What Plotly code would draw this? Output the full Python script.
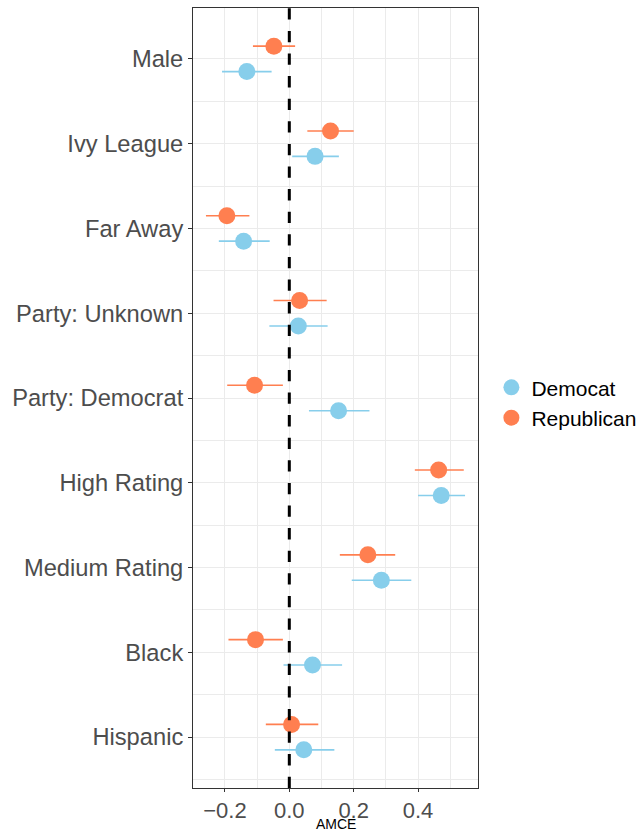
import plotly.graph_objects as go

# Attributes, listed top to bottom
attributes = ["Male", "Ivy League", "Far Away", "Party: Unknown", "Party: Democrat",
              "High Rating", "Medium Rating", "Black", "Hispanic"]

# AMCE estimates and 95% confidence bounds per party of respondent
dem_est   = [-0.132, 0.080, -0.142, 0.028, 0.153, 0.472, 0.286, 0.072, 0.045]
dem_low   = [-0.209, 0.009, -0.219, -0.062, 0.061, 0.400, 0.194, -0.018, -0.045]
dem_high  = [-0.055, 0.154, -0.061, 0.119, 0.249, 0.546, 0.379, 0.164, 0.140]

rep_est   = [-0.048, 0.128, -0.194, 0.032, -0.108, 0.464, 0.244, -0.105, 0.007]
rep_low   = [-0.113, 0.056, -0.259, -0.049, -0.193, 0.390, 0.157, -0.189, -0.073]
rep_high  = [0.018, 0.200, -0.124, 0.116, -0.020, 0.542, 0.329, -0.020, 0.090]

x_ticks = [-0.2, 0.0, 0.2, 0.4]
x_tick_text = ["\u22120.2", "0.0", "0.2", "0.4"]

n = len(attributes)
positions = [n - i for i in range(n)]  # first attribute on top
dodge = 0.15

FONT = "Liberation Sans, Arial, Helvetica, sans-serif"
GRID = "#EBEBEB"
BORDER = "#333333"

fig = go.Figure()


def add_series(name, est, low, high, offset, color):
    fig.add_trace(go.Scatter(
        x=est,
        y=[p + offset for p in positions],
        mode="markers",
        name=name,
        marker=dict(color=color, size=17, line=dict(width=0)),
        error_x=dict(
            type="data", symmetric=False,
            array=[h - e for h, e in zip(high, est)],
            arrayminus=[e - l for e, l in zip(est, low)],
            color=color, thickness=1.6, width=0,
        ),
        showlegend=True,
    ))


add_series("Democat", dem_est, dem_low, dem_high, -dodge, "#87CEEB")
add_series("Republican", rep_est, rep_low, rep_high, dodge, "#FF7F50")

# reference line at zero effect
fig.add_shape(type="line", xref="x", yref="paper", x0=0, x1=0, y0=0, y1=1,
              line=dict(color="black", width=3, dash="11.3px,11.3px"), layer="above")

# x-axis title, placed below the tick labels
fig.add_annotation(text="AMCE", xref="paper", yref="paper", x=0.5, y=-0.0465,
                   xanchor="center", yanchor="middle", showarrow=False,
                   borderpad=0,
                   font=dict(family=FONT, size=14, color="black"))

x_min = min(dem_low + rep_low)
x_max = max(dem_high + rep_high)
pad = 0.05 * (x_max - x_min)

fig.update_layout(
    width=637, height=833,
    margin=dict(l=193, r=159, t=8, b=45, autoexpand=False),
    paper_bgcolor="white", plot_bgcolor="white",
    font=dict(family=FONT, color="#4D4D4D"),
    showlegend=True,
    legend=dict(
        x=1.047, y=0.494, xanchor="left", yanchor="middle",
        font=dict(family=FONT, size=21, color="black"),
        bgcolor="rgba(0,0,0,0)", tracegroupgap=0,
    ),
    xaxis=dict(
        range=[x_min - pad, x_max + pad],
        tickvals=x_ticks, ticktext=x_tick_text,
        tickfont=dict(size=22, color="#4D4D4D"),
        ticks="outside", ticklen=3, tickcolor=BORDER, tickwidth=1,
        showgrid=True, gridcolor=GRID, gridwidth=1.1,
        minor=dict(tickvals=[-0.1, 0.1, 0.3, 0.5], showgrid=True,
                   gridcolor=GRID, gridwidth=0.6, ticks=""),
        zeroline=False, automargin=False,
        showline=True, linecolor=BORDER, linewidth=1, mirror=True,
    ),
    yaxis=dict(
        range=[0.4, n + 0.6],
        tickvals=positions, ticktext=attributes,
        tickfont=dict(size=23.7, color="#4D4D4D"),
        ticks="outside", ticklen=4, tickcolor=BORDER, tickwidth=1,
        showgrid=True, gridcolor=GRID, gridwidth=1.1,
        minor=dict(tickvals=[p + 0.5 for p in range(n)], showgrid=True,
                   gridcolor=GRID, gridwidth=0.6, ticks=""),
        zeroline=False, automargin=False,
        showline=True, linecolor=BORDER, linewidth=1, mirror=True,
    ),
)

fig.write_html("out.html")
